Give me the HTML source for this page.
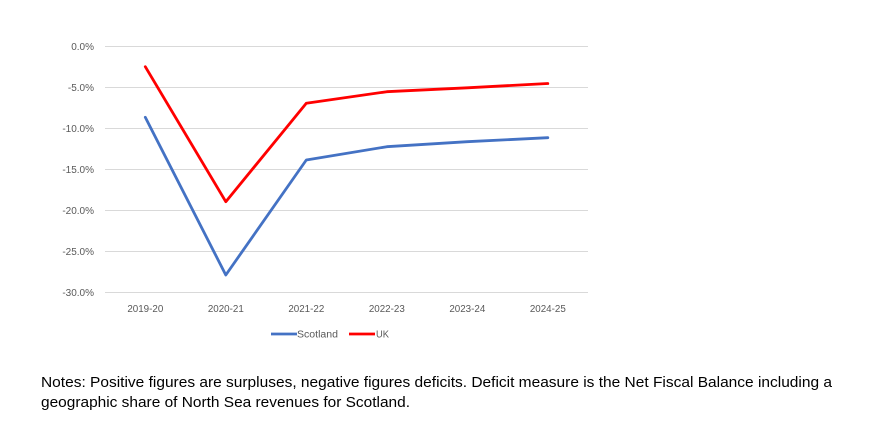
<!DOCTYPE html>
<html><head><meta charset="utf-8"><style>
html,body{margin:0;padding:0;background:#fff;}
svg{display:block;}
</style></head><body>
<svg width="893" height="429" viewBox="0 0 893 429" xmlns="http://www.w3.org/2000/svg">
<rect width="893" height="429" fill="#fff"/>
<g stroke="#D9D9D9" stroke-width="1">
<line x1="105" y1="46.5" x2="588" y2="46.5"/>
<line x1="105" y1="87.5" x2="588" y2="87.5"/>
<line x1="105" y1="128.5" x2="588" y2="128.5"/>
<line x1="105" y1="169.5" x2="588" y2="169.5"/>
<line x1="105" y1="210.5" x2="588" y2="210.5"/>
<line x1="105" y1="251.5" x2="588" y2="251.5"/>
<line x1="105" y1="292.5" x2="588" y2="292.5"/>
</g>
<g font-family="Liberation Sans, sans-serif" font-size="10" fill="#595959" text-anchor="end">
<text x="94" y="50">0.0%</text>
<text x="94" y="91">-5.0%</text>
<text x="94" y="132">-10.0%</text>
<text x="94" y="173">-15.0%</text>
<text x="94" y="214">-20.0%</text>
<text x="94" y="255">-25.0%</text>
<text x="94" y="296">-30.0%</text>
</g>
<g font-family="Liberation Sans, sans-serif" font-size="9.8" fill="#595959" text-anchor="middle">
<text x="145.3" y="312">2019-20</text>
<text x="225.8" y="312">2020-21</text>
<text x="306.3" y="312">2021-22</text>
<text x="386.8" y="312">2022-23</text>
<text x="467.3" y="312">2023-24</text>
<text x="547.8" y="312">2024-25</text>
</g>
<polyline fill="none" stroke="#4472C4" stroke-width="2.8" stroke-linejoin="round" stroke-linecap="round"
 points="145.3,117.3 225.8,275 306.3,160 386.8,146.7 467.3,141.7 547.8,137.7"/>
<polyline fill="none" stroke="#FF0000" stroke-width="2.8" stroke-linejoin="round" stroke-linecap="round"
 points="145.3,66.7 225.8,201.7 306.3,103.3 386.8,91.7 467.3,87.8 547.8,83.5"/>
<line x1="271" y1="334" x2="297" y2="334" stroke="#4472C4" stroke-width="2.8"/>
<line x1="349" y1="334" x2="375" y2="334" stroke="#FF0000" stroke-width="2.8"/>
<g font-family="Liberation Sans, sans-serif" font-size="9.8" fill="#595959">
<text x="297" y="337.5" textLength="41" lengthAdjust="spacingAndGlyphs">Scotland</text>
<text x="376" y="337.5" textLength="13" lengthAdjust="spacingAndGlyphs">UK</text>
</g>
<g font-family="Liberation Sans, sans-serif" font-size="14.5" fill="#000">
<text x="41" y="387" textLength="791" lengthAdjust="spacingAndGlyphs">Notes: Positive figures are surpluses, negative figures deficits. Deficit measure is the Net Fiscal Balance including a</text>
<text x="41" y="407" textLength="369" lengthAdjust="spacingAndGlyphs">geographic share of North Sea revenues for Scotland.</text>
</g>
</svg>
</body></html>
